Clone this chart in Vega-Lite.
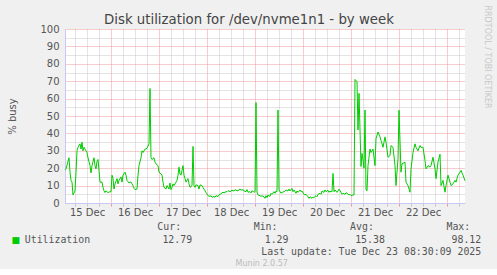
{
  "$schema": "https://vega.github.io/schema/vega-lite/v6.json",
  "background": "#F0F0F0",
  "padding": {"left": 7, "top": 5, "right": 5, "bottom": 0},
  "config": {"font": "DejaVu Sans", "view": {"stroke": null}},
  "bounds": "flush",
  "spacing": 17.75,
  "vconcat": [
    {
      "width": 400,
      "height": 174,
      "view": {"fill": "#FFFFFF", "stroke": null},
      "title": {"text": "Disk utilization for /dev/nvme1n1 - by week", "fontSize": 13.3, "fontWeight": "normal", "color": "#444444", "frame": "bounds", "anchor": "middle", "offset": -21},
      "data": {"values": [
        {"t":"2025-12-15T01:00","v":19},{"t":"2025-12-15T01:30","v":19.6},{"t":"2025-12-15T03:00","v":26},{"t":"2025-12-15T03:30","v":17.7},{"t":"2025-12-15T04:00","v":13},{"t":"2025-12-15T04:30","v":12},{"t":"2025-12-15T05:00","v":4.6},{"t":"2025-12-15T06:00","v":7},{"t":"2025-12-15T06:30","v":17.7},{"t":"2025-12-15T07:00","v":30},{"t":"2025-12-15T07:30","v":32},{"t":"2025-12-15T08:30","v":34},{"t":"2025-12-15T09:00","v":31},{"t":"2025-12-15T09:30","v":35},{"t":"2025-12-15T10:00","v":30},{"t":"2025-12-15T10:30","v":32},{"t":"2025-12-15T11:00","v":31},{"t":"2025-12-15T12:00","v":29},{"t":"2025-12-15T12:30","v":26},{"t":"2025-12-15T13:30","v":21.5},{"t":"2025-12-15T14:00","v":17.3},{"t":"2025-12-15T14:30","v":21.5},{"t":"2025-12-15T15:30","v":26},{"t":"2025-12-15T16:00","v":21.5},{"t":"2025-12-15T16:30","v":19.6},{"t":"2025-12-15T17:00","v":24},{"t":"2025-12-15T17:30","v":25},{"t":"2025-12-15T18:00","v":18.7},{"t":"2025-12-15T18:30","v":12},{"t":"2025-12-15T19:30","v":12},{"t":"2025-12-15T20:00","v":9},{"t":"2025-12-15T20:30","v":7},{"t":"2025-12-15T21:00","v":6},{"t":"2025-12-15T21:30","v":7},{"t":"2025-12-15T22:30","v":6},{"t":"2025-12-15T23:30","v":6.5},
        {"t":"2025-12-16T00:00","v":6.5},{"t":"2025-12-16T00:30","v":16},{"t":"2025-12-16T01:00","v":14},{"t":"2025-12-16T01:30","v":8},{"t":"2025-12-16T02:00","v":11},{"t":"2025-12-16T03:00","v":14},{"t":"2025-12-16T03:30","v":11},{"t":"2025-12-16T04:00","v":13},{"t":"2025-12-16T05:00","v":15},{"t":"2025-12-16T05:30","v":12},{"t":"2025-12-16T06:00","v":16},{"t":"2025-12-16T07:00","v":17.7},{"t":"2025-12-16T07:30","v":16},{"t":"2025-12-16T08:00","v":13},{"t":"2025-12-16T09:00","v":11.5},{"t":"2025-12-16T09:30","v":12},{"t":"2025-12-16T10:00","v":12},{"t":"2025-12-16T11:00","v":10},{"t":"2025-12-16T11:30","v":8.5},{"t":"2025-12-16T12:00","v":7.7},{"t":"2025-12-16T13:00","v":8},{"t":"2025-12-16T13:30","v":16},{"t":"2025-12-16T14:00","v":21.5},{"t":"2025-12-16T15:00","v":26},{"t":"2025-12-16T15:30","v":30},{"t":"2025-12-16T16:00","v":29},{"t":"2025-12-16T17:00","v":31},{"t":"2025-12-16T17:30","v":31},{"t":"2025-12-16T18:00","v":31.5},{"t":"2025-12-16T19:00","v":34},{"t":"2025-12-16T19:30","v":65.8},{"t":"2025-12-16T20:00","v":26},{"t":"2025-12-16T20:30","v":25},{"t":"2025-12-16T21:30","v":26},{"t":"2025-12-16T22:00","v":23.5},{"t":"2025-12-16T22:30","v":22.5},{"t":"2025-12-16T23:30","v":21.5},
        {"t":"2025-12-17T00:00","v":17.7},{"t":"2025-12-17T00:30","v":17.3},{"t":"2025-12-17T01:30","v":16},{"t":"2025-12-17T02:00","v":12},{"t":"2025-12-17T02:30","v":9},{"t":"2025-12-17T03:30","v":8},{"t":"2025-12-17T04:00","v":10},{"t":"2025-12-17T05:00","v":8},{"t":"2025-12-17T05:30","v":11.5},{"t":"2025-12-17T06:00","v":7.7},{"t":"2025-12-17T06:30","v":9},{"t":"2025-12-17T07:00","v":11},{"t":"2025-12-17T07:30","v":10},{"t":"2025-12-17T08:30","v":12},{"t":"2025-12-17T09:00","v":13},{"t":"2025-12-17T09:30","v":16},{"t":"2025-12-17T10:00","v":20.6},{"t":"2025-12-17T10:30","v":16.7},{"t":"2025-12-17T11:00","v":16},{"t":"2025-12-17T11:30","v":18.7},{"t":"2025-12-17T12:00","v":21.5},{"t":"2025-12-17T12:30","v":16},{"t":"2025-12-17T13:00","v":14},{"t":"2025-12-17T13:30","v":12},{"t":"2025-12-17T14:30","v":14},{"t":"2025-12-17T15:00","v":11},{"t":"2025-12-17T15:30","v":9},{"t":"2025-12-17T16:30","v":10},{"t":"2025-12-17T17:00","v":32.5},{"t":"2025-12-17T17:30","v":10},{"t":"2025-12-17T18:00","v":9},{"t":"2025-12-17T18:30","v":10.4},{"t":"2025-12-17T19:30","v":10},{"t":"2025-12-17T20:00","v":8},{"t":"2025-12-17T20:30","v":10.4},{"t":"2025-12-17T21:30","v":10},{"t":"2025-12-17T22:00","v":9},{"t":"2025-12-17T22:30","v":8},{"t":"2025-12-17T23:30","v":6},
        {"t":"2025-12-18T00:00","v":5.2},{"t":"2025-12-18T00:30","v":4.2},{"t":"2025-12-18T01:30","v":3.8},{"t":"2025-12-18T02:00","v":4.2},{"t":"2025-12-18T02:30","v":3.3},{"t":"2025-12-18T03:30","v":3.8},{"t":"2025-12-18T04:00","v":3.3},{"t":"2025-12-18T04:30","v":4.2},{"t":"2025-12-18T05:30","v":3.7},{"t":"2025-12-18T06:00","v":4.6},{"t":"2025-12-18T06:30","v":5},{"t":"2025-12-18T07:30","v":5.8},{"t":"2025-12-18T08:00","v":6.2},{"t":"2025-12-18T08:30","v":5.8},{"t":"2025-12-18T09:30","v":6.5},{"t":"2025-12-18T10:00","v":6.5},{"t":"2025-12-18T10:30","v":7.1},{"t":"2025-12-18T11:30","v":6.5},{"t":"2025-12-18T12:00","v":6.9},{"t":"2025-12-18T12:30","v":7.3},{"t":"2025-12-18T13:30","v":6.9},{"t":"2025-12-18T14:00","v":7.7},{"t":"2025-12-18T14:30","v":7.3},{"t":"2025-12-18T15:30","v":6.9},{"t":"2025-12-18T16:00","v":7.7},{"t":"2025-12-18T16:30","v":8},{"t":"2025-12-18T17:30","v":7.3},{"t":"2025-12-18T18:00","v":7.7},{"t":"2025-12-18T18:30","v":6.9},{"t":"2025-12-18T19:30","v":6.5},{"t":"2025-12-18T20:00","v":7.7},{"t":"2025-12-18T20:30","v":6.2},{"t":"2025-12-18T21:30","v":6.5},{"t":"2025-12-18T22:00","v":5.8},{"t":"2025-12-18T22:30","v":7.1},{"t":"2025-12-18T23:30","v":6.2},
        {"t":"2025-12-19T00:00","v":6.5},{"t":"2025-12-19T00:30","v":57.7},{"t":"2025-12-19T01:00","v":6.2},{"t":"2025-12-19T01:30","v":4.6},{"t":"2025-12-19T02:30","v":4.2},{"t":"2025-12-19T03:00","v":3.8},{"t":"2025-12-19T03:30","v":4.2},{"t":"2025-12-19T04:30","v":3.5},{"t":"2025-12-19T05:00","v":2.7},{"t":"2025-12-19T05:30","v":4.2},{"t":"2025-12-19T06:00","v":3.1},{"t":"2025-12-19T06:30","v":4.6},{"t":"2025-12-19T07:30","v":3.8},{"t":"2025-12-19T08:00","v":5.6},{"t":"2025-12-19T08:30","v":5},{"t":"2025-12-19T09:30","v":6.5},{"t":"2025-12-19T10:00","v":5.6},{"t":"2025-12-19T10:30","v":6.9},{"t":"2025-12-19T11:00","v":6.5},{"t":"2025-12-19T11:30","v":53.4},{"t":"2025-12-19T12:00","v":7.5},{"t":"2025-12-19T13:00","v":5.6},{"t":"2025-12-19T13:30","v":6.1},{"t":"2025-12-19T14:30","v":6.5},{"t":"2025-12-19T15:00","v":6.9},{"t":"2025-12-19T15:30","v":7.5},{"t":"2025-12-19T16:30","v":6.9},{"t":"2025-12-19T17:00","v":8},{"t":"2025-12-19T17:30","v":6.9},{"t":"2025-12-19T18:30","v":8.4},{"t":"2025-12-19T19:00","v":6.5},{"t":"2025-12-19T19:30","v":7.5},{"t":"2025-12-19T20:30","v":5.6},{"t":"2025-12-19T21:00","v":6.9},{"t":"2025-12-19T21:30","v":6.1},{"t":"2025-12-19T22:30","v":7.5},{"t":"2025-12-19T23:00","v":6.5},{"t":"2025-12-19T23:30","v":6.9},
        {"t":"2025-12-20T00:30","v":5},{"t":"2025-12-20T01:00","v":4.6},{"t":"2025-12-20T01:30","v":5},{"t":"2025-12-20T02:30","v":3.6},{"t":"2025-12-20T03:00","v":2.7},{"t":"2025-12-20T03:30","v":3.6},{"t":"2025-12-20T04:30","v":2.7},{"t":"2025-12-20T05:00","v":3.4},{"t":"2025-12-20T05:30","v":3.1},{"t":"2025-12-20T06:30","v":4.2},{"t":"2025-12-20T07:00","v":3.6},{"t":"2025-12-20T07:30","v":5},{"t":"2025-12-20T08:30","v":5.6},{"t":"2025-12-20T09:00","v":5},{"t":"2025-12-20T09:30","v":6.9},{"t":"2025-12-20T10:30","v":6.1},{"t":"2025-12-20T11:00","v":7.5},{"t":"2025-12-20T11:30","v":6.5},{"t":"2025-12-20T12:30","v":7.3},{"t":"2025-12-20T13:00","v":6.1},{"t":"2025-12-20T13:30","v":6.9},{"t":"2025-12-20T14:00","v":6.5},{"t":"2025-12-20T14:30","v":6.5},{"t":"2025-12-20T15:00","v":17},{"t":"2025-12-20T15:30","v":6.5},{"t":"2025-12-20T16:00","v":7.5},{"t":"2025-12-20T17:00","v":6.1},{"t":"2025-12-20T17:30","v":6.9},{"t":"2025-12-20T18:00","v":8},{"t":"2025-12-20T19:00","v":6.1},{"t":"2025-12-20T19:30","v":5},{"t":"2025-12-20T20:00","v":5.6},{"t":"2025-12-20T21:00","v":5},{"t":"2025-12-20T21:30","v":5.9},{"t":"2025-12-20T22:00","v":5.6},{"t":"2025-12-20T23:00","v":4.6},{"t":"2025-12-20T23:30","v":5},
        {"t":"2025-12-21T00:00","v":4.2},{"t":"2025-12-21T01:00","v":4.6},{"t":"2025-12-21T01:30","v":4.6},{"t":"2025-12-21T02:00","v":71},{"t":"2025-12-21T03:00","v":69.7},{"t":"2025-12-21T03:30","v":42},{"t":"2025-12-21T04:00","v":63},{"t":"2025-12-21T05:00","v":21},{"t":"2025-12-21T05:30","v":28.5},{"t":"2025-12-21T06:00","v":24.7},{"t":"2025-12-21T06:30","v":20},{"t":"2025-12-21T07:00","v":53.4},{"t":"2025-12-21T07:30","v":7.5},{"t":"2025-12-21T08:00","v":7},{"t":"2025-12-21T08:30","v":21.5},{"t":"2025-12-21T09:30","v":31},{"t":"2025-12-21T10:00","v":29},{"t":"2025-12-21T11:00","v":31},{"t":"2025-12-21T12:00","v":21.5},{"t":"2025-12-21T12:30","v":37},{"t":"2025-12-21T13:30","v":40.8},{"t":"2025-12-21T14:30","v":38},{"t":"2025-12-21T15:00","v":36},{"t":"2025-12-21T16:00","v":32},{"t":"2025-12-21T17:00","v":38},{"t":"2025-12-21T17:30","v":35},{"t":"2025-12-21T18:30","v":26.3},{"t":"2025-12-21T19:30","v":27.3},{"t":"2025-12-21T20:00","v":33},{"t":"2025-12-21T21:00","v":32},{"t":"2025-12-21T22:00","v":21.5},{"t":"2025-12-21T22:30","v":10},{"t":"2025-12-21T23:30","v":25.4},
        {"t":"2025-12-22T00:00","v":53.3},{"t":"2025-12-22T01:00","v":17.7},{"t":"2025-12-22T01:30","v":22.5},{"t":"2025-12-22T03:00","v":23.5},{"t":"2025-12-22T03:30","v":12},{"t":"2025-12-22T04:30","v":10},{"t":"2025-12-22T05:30","v":6.2},{"t":"2025-12-22T06:00","v":19.6},{"t":"2025-12-22T07:00","v":29},{"t":"2025-12-22T08:00","v":34},{"t":"2025-12-22T08:30","v":32},{"t":"2025-12-22T09:30","v":30},{"t":"2025-12-22T10:30","v":33},{"t":"2025-12-22T11:00","v":32},{"t":"2025-12-22T12:00","v":32},{"t":"2025-12-22T13:00","v":24.4},{"t":"2025-12-22T13:30","v":19.6},{"t":"2025-12-22T14:30","v":21.5},{"t":"2025-12-22T15:30","v":20.6},{"t":"2025-12-22T16:00","v":21.5},{"t":"2025-12-22T17:00","v":26.3},{"t":"2025-12-22T18:00","v":19.6},{"t":"2025-12-22T18:30","v":14},{"t":"2025-12-22T19:30","v":23.5},{"t":"2025-12-22T20:30","v":28},{"t":"2025-12-22T21:00","v":10},{"t":"2025-12-22T22:00","v":13},{"t":"2025-12-22T23:00","v":6.2},{"t":"2025-12-22T23:30","v":10},
        {"t":"2025-12-23T00:30","v":16},{"t":"2025-12-23T01:30","v":12},{"t":"2025-12-23T02:00","v":10},{"t":"2025-12-23T03:00","v":11},{"t":"2025-12-23T04:00","v":13},{"t":"2025-12-23T04:30","v":12},{"t":"2025-12-23T05:30","v":16},{"t":"2025-12-23T06:30","v":17.7},{"t":"2025-12-23T07:00","v":18.7},{"t":"2025-12-23T08:00","v":16},{"t":"2025-12-23T09:00","v":12.79}
      ]},
      "layer": [
        {
          "mark": {"type": "line", "strokeOpacity": 0},
          "encoding": {
            "x": {"field": "t", "type": "temporal", "scale": {"domain": [{"year": 2025, "month": 12, "date": 15, "hours": 1}, {"year": 2025, "month": 12, "date": 23, "hours": 9}]},
              "axis": {"orient": "bottom", "values": [
                {"year":2025,"month":12,"date":15,"hours":6},{"year":2025,"month":12,"date":15,"hours":12},{"year":2025,"month":12,"date":15,"hours":18},
                {"year":2025,"month":12,"date":16,"hours":6},{"year":2025,"month":12,"date":16,"hours":12},{"year":2025,"month":12,"date":16,"hours":18},
                {"year":2025,"month":12,"date":17,"hours":6},{"year":2025,"month":12,"date":17,"hours":12},{"year":2025,"month":12,"date":17,"hours":18},
                {"year":2025,"month":12,"date":18,"hours":6},{"year":2025,"month":12,"date":18,"hours":12},{"year":2025,"month":12,"date":18,"hours":18},
                {"year":2025,"month":12,"date":19,"hours":6},{"year":2025,"month":12,"date":19,"hours":12},{"year":2025,"month":12,"date":19,"hours":18},
                {"year":2025,"month":12,"date":20,"hours":6},{"year":2025,"month":12,"date":20,"hours":12},{"year":2025,"month":12,"date":20,"hours":18},
                {"year":2025,"month":12,"date":21,"hours":6},{"year":2025,"month":12,"date":21,"hours":12},{"year":2025,"month":12,"date":21,"hours":18},
                {"year":2025,"month":12,"date":22,"hours":6},{"year":2025,"month":12,"date":22,"hours":12},{"year":2025,"month":12,"date":22,"hours":18},
                {"year":2025,"month":12,"date":23,"hours":6}],
                "grid": true, "gridColor": "#C8C8C8", "gridDash": [1, 1], "labels": false, "ticks": true, "tickColor": "#C8C8C8", "tickSize": 3, "domain": false, "title": null}},
            "y": {"field": "v", "type": "quantitative", "scale": {"domain": [0, 100], "nice": false},
              "axis": {"orient": "left", "values": [5, 15, 25, 35, 45, 55, 65, 75, 85, 95], "grid": true, "gridColor": "#C8C8C8", "gridDash": [1, 1], "labels": false, "ticks": false, "domain": false, "title": null}}
          }
        },
        {
          "mark": {"type": "line", "strokeOpacity": 0},
          "encoding": {
            "x": {"field": "t", "type": "temporal",
              "axis": {"orient": "bottom", "values": [
                {"year":2025,"month":12,"date":16},{"year":2025,"month":12,"date":17},{"year":2025,"month":12,"date":18},{"year":2025,"month":12,"date":19},
                {"year":2025,"month":12,"date":20},{"year":2025,"month":12,"date":21},{"year":2025,"month":12,"date":22},{"year":2025,"month":12,"date":23}],
                "grid": true, "gridColor": "#EE9999", "gridDash": [1, 1], "labels": false, "ticks": true, "tickColor": "#EE9999", "tickSize": 3, "domain": false, "title": null}},
            "y": {"field": "v", "type": "quantitative",
              "axis": {"orient": "left", "values": [0, 10, 20, 30, 40, 50, 60, 70, 80, 90, 100], "grid": true, "gridColor": "#EE9999", "gridDash": [1, 1], "labels": true, "labelColor": "#555555", "labelFontSize": 10, "labelPadding": 6, "ticks": false, "domain": true, "domainColor": "#C8C8F5", "title": "% busy", "titleFontSize": 10, "titleFontWeight": "normal", "titleColor": "#555555", "titlePadding": 22}}
          }
        },
        {
          "mark": {"type": "line", "strokeOpacity": 0},
          "encoding": {
            "x": {"field": "t", "type": "temporal",
              "axis": {"orient": "bottom", "values": [{"year": 2025, "month": 12, "date": 15, "hours": 12}, {"year": 2025, "month": 12, "date": 16, "hours": 12}, {"year": 2025, "month": 12, "date": 17, "hours": 12}, {"year": 2025, "month": 12, "date": 18, "hours": 12}, {"year": 2025, "month": 12, "date": 19, "hours": 12}, {"year": 2025, "month": 12, "date": 20, "hours": 12}, {"year": 2025, "month": 12, "date": 21, "hours": 12}, {"year": 2025, "month": 12, "date": 22, "hours": 12}],
                "format": "%d %b", "grid": false, "ticks": false, "domain": true, "domainColor": "#C8C8F5", "labelColor": "#555555", "labelFontSize": 10, "labelPadding": 4, "title": null}},
            "y": {"field": "v", "type": "quantitative",
              "axis": {"orient": "right", "labels": false, "ticks": false, "domain": false, "grid": false, "title": "RRDTOOL / TOBI OETIKER", "titleAngle": 90, "titleAlign": "left", "titleBaseline": "middle", "titleX": 21, "titleY": -24, "titleColor": "#C8C8C8", "titleFontSize": 8, "titleFontWeight": "normal"}}
          }
        },
        {
          "mark": {"type": "line", "color": "#00CC00", "strokeWidth": 1},
          "encoding": {
            "x": {"field": "t", "type": "temporal", "axis": null},
            "y": {"field": "v", "type": "quantitative", "axis": null}
          }
        }
      ],
      "resolve": {"axis": {"x": "independent", "y": "independent"}}
    },
    {
      "width": 447,
      "height": 37.5,
      "title": {"text": "Munin 2.0.57", "orient": "bottom", "anchor": "middle", "frame": "bounds", "fontSize": 8, "fontWeight": "normal", "color": "#BBBBBB", "offset": 2},
      "data": {"values": [
        {"line": "head", "col": "Cur", "text": "Cur:"},
        {"line": "head", "col": "Min", "text": "Min:"},
        {"line": "head", "col": "Avg", "text": "Avg:"},
        {"line": "head", "col": "Max", "text": "Max:"},
        {"line": "value", "col": "name", "text": "Utilization"},
        {"line": "value", "col": "Cur", "text": "12.79"},
        {"line": "value", "col": "Min", "text": "1.29"},
        {"line": "value", "col": "Avg", "text": "15.38"},
        {"line": "value", "col": "Max", "text": "98.12"},
        {"line": "update", "col": "Max", "text": "Last update: Tue Dec 23 08:30:09 2025"}
      ]},
      "encoding": {
        "x": {"field": "col", "type": "ordinal", "scale": {"type": "point", "domain": ["name", "Cur", "Min", "Avg", "Max"], "padding": 0.319}, "axis": null},
        "y": {"field": "line", "type": "ordinal", "scale": {"type": "point", "domain": ["head", "value", "update"], "padding": 0.5}, "axis": null}
      },
      "layer": [
        {"transform": [{"filter": "datum.line == 'head'"}], "mark": {"type": "text", "align": "right", "dx": -11, "font": "DejaVu Sans Mono", "fontSize": 9.9, "color": "#555555"}, "encoding": {"text": {"field": "text"}}},
        {"transform": [{"filter": "datum.line != 'head' && datum.col != 'name'"}], "mark": {"type": "text", "align": "right", "font": "DejaVu Sans Mono", "fontSize": 9.9, "color": "#555555"}, "encoding": {"text": {"field": "text"}}},
        {"transform": [{"filter": "datum.col == 'name'"}], "mark": {"type": "text", "align": "left", "dx": -71, "font": "DejaVu Sans Mono", "fontSize": 9.9, "color": "#555555"}, "encoding": {"text": {"field": "text"}}},
        {"transform": [{"filter": "datum.col == 'name'"}], "mark": {"type": "text", "text": "■", "align": "center", "dx": -80, "font": "DejaVu Sans", "fontSize": 9, "color": "#00CC00"}}
      ]
    }
  ]
}
